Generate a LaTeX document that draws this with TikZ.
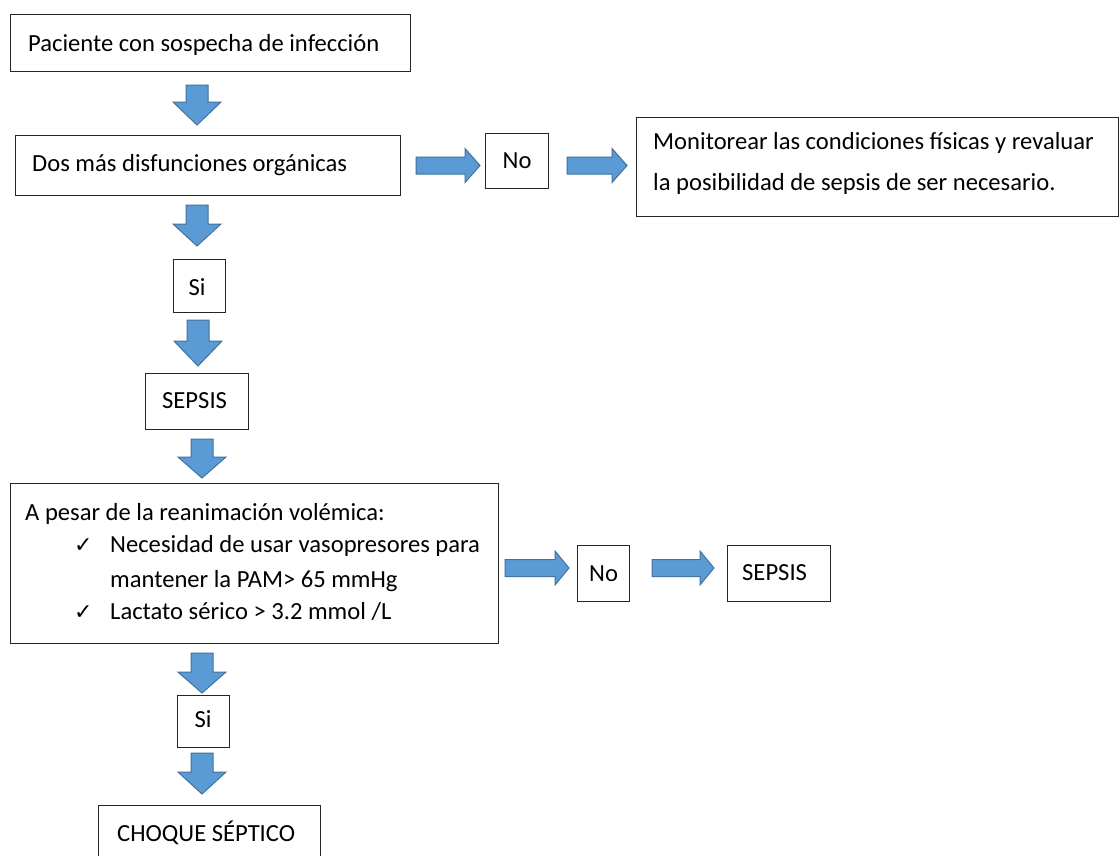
\documentclass[tikz,border=0pt]{standalone}
\usepackage{fontspec}
\setmainfont{Carlito}
\newfontfamily\symfont{DejaVu Sans}
\definecolor{arrowfill}{HTML}{5B9BD5}
\definecolor{arrowline}{HTML}{41719C}
\newcommand\dnarrow[4]{\draw[barrow] ({#1-11},#2) -- ({#1+11},#2) -- ({#1+11},#3) -- ({#1+24},#3) -- (#1,#4) -- ({#1-24},#3) -- ({#1-11},#3) -- cycle;}
\newcommand\rtarrow[4]{\draw[barrow] (#2,{#1-8.5}) -- (#3,{#1-8.5}) -- (#3,{#1-17}) -- (#4,#1) -- (#3,{#1+17}) -- (#3,{#1+8.5}) -- (#2,{#1+8.5}) -- cycle;}
\begin{document}
\begin{tikzpicture}[x=1pt,y=-1pt,
  box/.style={draw=black!85, line width=1.3pt, fill=white, inner sep=0pt, anchor=north west},
  txt/.style={font=\fontsize{24.6}{39}\selectfont, inner sep=0pt},
  chk/.style={font=\symfont\fontsize{22}{24}\selectfont, inner sep=0pt},
  barrow/.style={fill=arrowfill, draw=arrowline, line width=1pt, line join=miter}]
\useasboundingbox (0,0) rectangle (1120,855);
\clip (0,0) rectangle (1120,855);
\fill[white] (0,0) rectangle (1120,855);

% boxes
\node[box, minimum width=400pt, minimum height=57pt] (b1) at (10,14) {};
\node[box, minimum width=385pt, minimum height=60pt] (b2) at (15,135) {};
\node[box, minimum width=63pt, minimum height=55pt] (no1) at (485,133) {};
\node[box, minimum width=482pt, minimum height=99pt] (mon) at (636,117) {};
\node[box, minimum width=52pt, minimum height=53pt] (si1) at (173,259) {};
\node[box, minimum width=103pt, minimum height=56pt] (sep1) at (145,373) {};
\node[box, minimum width=488pt, minimum height=160pt] (b3) at (10,483) {};
\node[box, minimum width=52pt, minimum height=56pt] (no2) at (577,545) {};
\node[box, minimum width=103pt, minimum height=56pt] (sep2) at (727,545) {};
\node[box, minimum width=52pt, minimum height=52pt] (si2) at (177,695) {};
\node[box, minimum width=222pt, minimum height=80pt] (cho) at (98,805) {};

% texts
\node[txt, anchor=base west] (t1) at (28,51) {Paciente con sospecha de infección};
\node[txt, anchor=base west] (t2) at (32,171) {Dos más disfunciones orgánicas};
\node[txt] (tno1) at (no1.center) {No};
\node[txt, anchor=base west] (tmon1) at (653,149) {Monitorear las condiciones físicas y revaluar};
\node[txt, anchor=base west] (tmon2) at (653,190) {la posibilidad de sepsis de ser necesario.};
\node[txt] (tsi1) at (197,287) {Si};
\node[txt, anchor=west] (tsep1) at (162,401) {SEPSIS};
\node[txt, anchor=base west] (t3a) at (25,520) {A pesar de la reanimación volémica:};
\node[chk, anchor=base west] (c1) at (74,552) {✓};
\node[txt, anchor=base west] (t3b) at (110,552) {Necesidad de usar vasopresores para};
\node[txt, anchor=base west] (t3c) at (110,587) {mantener la PAM> 65 mmHg};
\node[chk, anchor=base west] (c2) at (74,619) {✓};
\node[txt, anchor=base west] (t3d) at (110,619) {Lactato sérico > 3.2 mmol /L};
\node[txt] (tno2) at (no2.center) {No};
\node[txt, anchor=west] (tsep2) at (742,573) {SEPSIS};
\node[txt] (tsi2) at (203,719) {Si};
\node[txt, anchor=west] (tcho) at (117,833) {CHOQUE SÉPTICO};

% block arrows
\dnarrow{197}{85}{102}{125}
\dnarrow{197}{205}{224}{246}
\dnarrow{198}{320}{341}{366}
\dnarrow{202}{439}{457}{478}
\dnarrow{202}{653}{672}{693}
\dnarrow{202}{753}{772}{794}
\rtarrow{165.5}{416}{465}{480}
\rtarrow{165.5}{567}{612}{627}
\rtarrow{568}{505}{555}{569}
\rtarrow{568}{652}{700}{714}
\end{tikzpicture}
\end{document}
